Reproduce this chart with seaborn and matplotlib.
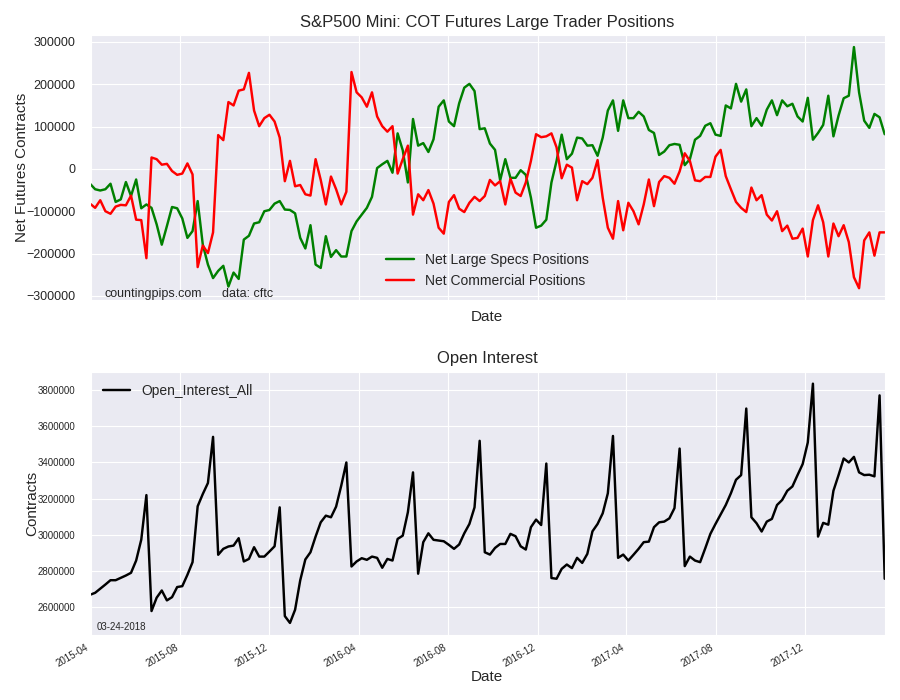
import numpy as np
import pandas as pd
import matplotlib
matplotlib.use('Agg')
import matplotlib.pyplot as plt
import matplotlib.dates as mdates
import seaborn as sns

# weekly COT report dates (Tuesdays)
start_date = '2015-03-31'
n_weeks = 156

# net large speculator positions (thousands of contracts)
large_specs = [-35, -48, -51, -48, -35, -78, -72, -31, -64, -25, -93, -84, -92, -131, -179, -135,
               -90, -93, -117, -163, -147, -76, -179, -226, -258, -241, -229, -278, -245, -260, -167, -158,
               -129, -126, -100, -97, -82, -76, -96, -97, -105, -163, -188, -133, -226, -234, -159, -208,
               -192, -207, -207, -147, -124, -108,
               -92, -66, 2, 11, 19, -9, 84, 44, -32, 118, 55, 61, 40, 70, 147, 162,
               112, 101, 155, 192, 201, 184, 94, 96, 60, 45, -27, 23, -21, -21, -3, -14,
               -68, -139, -134, -120, -32, 19, 81, 23, 36, 74, 72, 55, 56, 31, 74, 138, 162, 90,
               162, 120, 120, 135, 124, 92, 85, 33, 41, 56, 59, 57, 9, 23, 69, 78,
               102, 108, 81, 78, 150, 143, 201, 159, 188, 101, 120, 102, 140, 162, 127, 162,
               148, 154, 124, 112, 168, 69, 85, 104, 173, 77, 126, 167, 173, 288, 181, 114,
               97, 130, 122, 82]

# net commercial positions (thousands of contracts)
commercial = [-82, -92, -74, -100, -106, -89, -85, -86, -63, -120, -121, -211, 27, 23, 10, 12,
              -5, -14, -11, 13, -13, -232, -181, -199, -150, 80, 68, 158, 150, 185, 188, 227,
              138, 101, 120, 128, 112, 74, -29, 19, -41, -38, -60, -63, 23, -26, -84, -18,
              -48, -84, -54, 229, 181, 169,
              147, 181, 124, 101, 88, 101, -11, 23, 55, -108, -60, -74, -50, -82, -139, -153,
              -78, -62, -94, -102, -80, -66, -76, -64, -26, -39, -29, -84, -23, -56, -64, -32,
              19, 82, 75, 77, 84, 51, -22, 10, 3, -74, -29, -36, -21, 21, -68, -139, -165, -76,
              -145, -80, -100, -131, -84, -25, -88, -31, -17, -21, -35, -6, 37, 19, -27, -29,
              -19, -19, 29, 45, -17, -48, -78, -92, -102, -44, -74, -62, -108, -122, -100, -147,
              -134, -165, -163, -141, -207, -121, -86, -126, -207, -129, -159, -133, -173, -256, -282, -169,
              -150, -205, -150, -150]

# open interest (thousands of contracts)
open_interest = [2666, 2677, 2700, 2723, 2747, 2747, 2760, 2773, 2788, 2856, 2972, 3219, 2576, 2650, 2690, 2635,
                 2653, 2709, 2714, 2777, 2847, 3157, 3225, 3286, 3542, 2888, 2921, 2934, 2939, 2980, 2851, 2865,
                 2930, 2878, 2878, 2906, 2935, 3151, 2548, 2510, 2583, 2746, 2862, 2902, 2989, 3068, 3105, 3096,
                 3155, 3271, 3400, 2823, 2851, 2869,
                 2860, 2878, 2871, 2816, 2865, 2856, 2976, 2994, 3124, 3345, 2783, 2958, 3007, 2971, 2967, 2963,
                 2943, 2921, 2945, 3007, 3059, 3151, 3520, 2902, 2889, 2926, 2948, 2948, 3004, 2991, 2935, 2917,
                 3041, 3083, 3053, 3394, 2759, 2755, 2810, 2834, 2814, 2871, 2843, 2893, 3018, 3059, 3118, 3229,
                 3547, 2871,
                 2889, 2856, 2888, 2921, 2958, 2961, 3041, 3068, 3072, 3090, 3147, 3477, 2825, 2878, 2856, 2847,
                 2924, 3004, 3059, 3111, 3164, 3229, 3304, 3330, 3699, 3096, 3063, 3017, 3072, 3087, 3164, 3192,
                 3243, 3267, 3330, 3391, 3511, 3837, 2989, 3065, 3055, 3243, 3330, 3422, 3400, 3431, 3345, 3330,
                 3332, 3323, 3772, 2755]

dates = pd.date_range(start_date, periods=n_weeks, freq='7D')
df = pd.DataFrame({
    'Date': dates,
    'specs': np.array(large_specs) * 1000,
    'comm': np.array(commercial) * 1000,
    'Open_Interest_All': np.array(open_interest) * 1000,
})

sns.set_style('darkgrid')
plt.rcParams['font.family'] = ['Liberation Sans', 'DejaVu Sans']

fig, (ax1, ax2) = plt.subplots(2, 1, figsize=(9, 7), dpi=100, sharex=True)
ax1.set_position([0.1, 0.571, 0.883, 0.379])
ax2.set_position([0.1, 0.093, 0.883, 0.376])

# top: net positions
sns.lineplot(data=df, x='Date', y='specs', ax=ax1, color='green', lw=1.75,
             label='Net Large Specs Positions')
sns.lineplot(data=df, x='Date', y='comm', ax=ax1, color='red', lw=1.75,
             label='Net Commercial Positions')
ax1.set_title('S&P500 Mini: COT Futures Large Trader Positions', fontsize=12)
ax1.set_ylabel('Net Futures Contracts', fontsize=11, labelpad=-2)
ax1.set_xlabel('Date', fontsize=11, labelpad=7)
ax1.xaxis.label.set_visible(True)
ax1.ticklabel_format(style='plain', axis='y')
ax1.tick_params(axis='y', labelsize=9, pad=7)
ax1.legend(loc='lower center', frameon=False, fontsize=10)
ax1.text(0.018, 0.012, 'countingpips.com', transform=ax1.transAxes, fontsize=9)
ax1.text(0.166, 0.012, 'data: cftc', transform=ax1.transAxes, fontsize=9)

# bottom: open interest
sns.lineplot(data=df, x='Date', y='Open_Interest_All', ax=ax2, color='black', lw=1.75,
             label='Open_Interest_All')
ax2.set_title('Open Interest', fontsize=12)
ax2.set_ylabel('Contracts', fontsize=11, labelpad=-1)
ax2.set_xlabel('Date', fontsize=11, labelpad=1)
ax2.ticklabel_format(style='plain', axis='y')
ax2.tick_params(axis='y', labelsize=7, pad=7)
ax2.tick_params(axis='x', pad=2)
ax2.legend(loc='upper left', frameon=False, fontsize=10)
ax2.text(0.008, 0.02, '03-24-2018', transform=ax2.transAxes, fontsize=7)

ax2.set_xlim(dates[0], dates[-1])
ax2.xaxis.set_major_locator(mdates.MonthLocator(bymonth=[4, 8, 12]))
ax2.xaxis.set_major_formatter(mdates.DateFormatter('%Y-%m'))
plt.setp(ax2.get_xticklabels(), rotation=30, ha='right', fontsize=7)

fig.savefig('out.png', dpi=100)
